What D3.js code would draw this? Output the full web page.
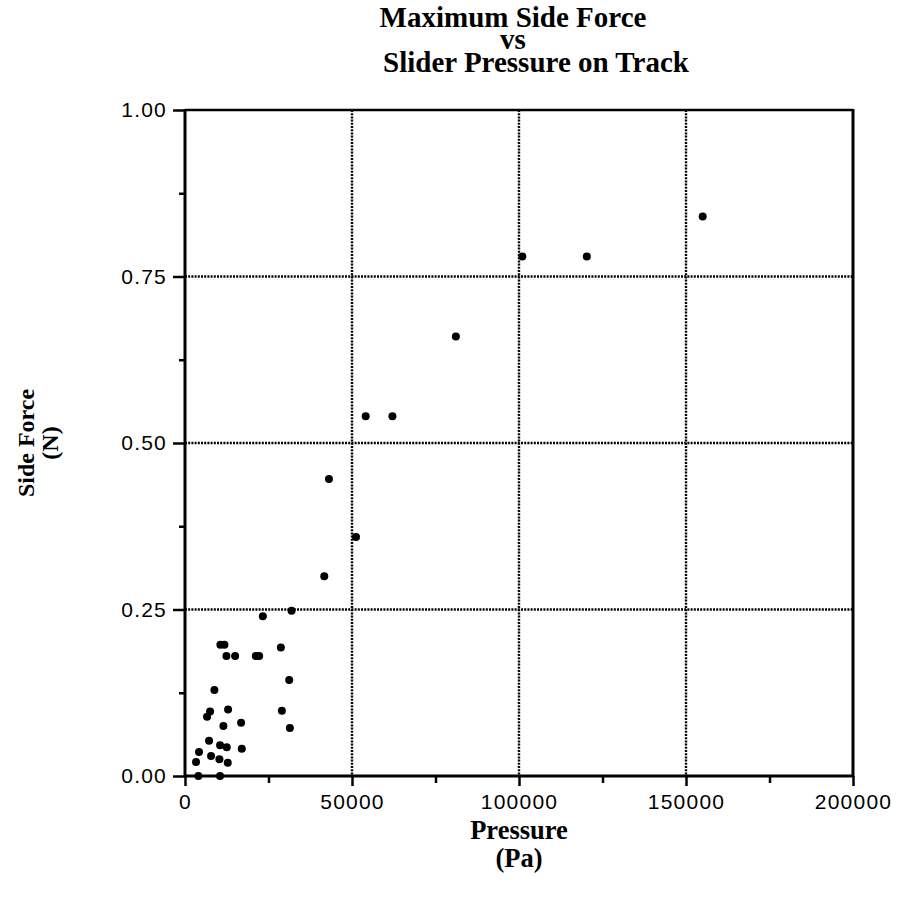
<!DOCTYPE html>
<html><head><meta charset="utf-8">
<script src="https://cdn.jsdelivr.net/npm/d3@7"></script>
<style>body{margin:0;background:#fff}</style>
</head><body><svg id="chart" width="908" height="902"></svg>
<script>
// Measured slider pressure (Pa) and the maximum side force (N) it produced
const pressure = [155000, 120300, 101000, 81100, 62100, 54100,
  43100, 51200, 41700,
  31900, 23300, 28700, 22200, 21200, 31200, 29000, 31400,
  10600, 11800, 12400, 15000, 8800, 7500, 6600, 12900, 11500, 16800,
  7200, 4200, 10500, 12500, 17000, 7800, 10300, 12800, 3300, 4000, 10500];
const sideForce = [0.84, 0.78, 0.78, 0.66, 0.54, 0.54,
  0.446, 0.359, 0.30,
  0.248, 0.240, 0.193, 0.180, 0.180, 0.144, 0.098, 0.072,
  0.197, 0.197, 0.180, 0.180, 0.129, 0.097, 0.089, 0.100, 0.075, 0.080,
  0.053, 0.036, 0.046, 0.043, 0.041, 0.030, 0.025, 0.020, 0.021, 0.0, 0.0];

const xTicks = [0, 50000, 100000, 150000, 200000];
const xMinorTicks = [25000, 75000, 125000, 175000];
const yTicks = [0, 0.25, 0.5, 0.75, 1.0];
const yMinorTicks = [0.125, 0.375, 0.625, 0.875];
const titleLines = ["Maximum Side Force", "vs", "Slider Pressure on Track"];
const xTitleLines = ["Pressure", "(Pa)"];
const yTitleLines = ["Side Force", "(N)"];

const svg = d3.select("#chart");
const plotLeft = 185, plotRight = 853, plotTop = 110, plotBottom = 776;
const x = d3.scaleLinear().domain([0, 200000]).range([plotLeft, plotRight]);
const y = d3.scaleLinear().domain([0, 1]).range([plotBottom, plotTop]);

const serif = "'Liberation Serif', 'Times New Roman', serif";
const sans = "'Liberation Sans', Arial, sans-serif";

// dotted grid lines at the interior major ticks
const grid = svg.append("g").attr("stroke", "#000").attr("stroke-width", 2.4)
  .attr("stroke-dasharray", "2,1.2").attr("fill", "none");
grid.selectAll("line.v").data(xTicks.slice(1, -1)).join("line").attr("class", "v")
  .attr("x1", d => x(d)).attr("x2", d => x(d)).attr("y1", plotTop).attr("y2", plotBottom);
grid.selectAll("line.h").data(yTicks.slice(1, -1)).join("line").attr("class", "h")
  .attr("y1", d => y(d)).attr("y2", d => y(d)).attr("x1", plotLeft).attr("x2", plotRight);

// axes
const xAxis = svg.append("g").attr("transform", `translate(0,${plotBottom})`)
  .call(d3.axisBottom(x).tickValues(xTicks).tickSize(10).tickPadding(8)
    .tickFormat(d3.format("d")));
const xMinor = svg.append("g").attr("transform", `translate(0,${plotBottom})`)
  .call(d3.axisBottom(x).tickValues(xMinorTicks).tickSize(7).tickFormat(""));
const yAxis = svg.append("g").attr("transform", `translate(${plotLeft},0)`)
  .call(d3.axisLeft(y).tickValues(yTicks).tickSize(12).tickPadding(6)
    .tickFormat(d3.format(".2f")));
const yMinor = svg.append("g").attr("transform", `translate(${plotLeft},0)`)
  .call(d3.axisLeft(y).tickValues(yMinorTicks).tickSize(6).tickFormat(""));

[xAxis, xMinor, yAxis, yMinor].forEach(g => {
  g.select(".domain").remove();
  g.selectAll(".tick line").attr("stroke", "#000").attr("stroke-width", 2.5);
});
[xAxis, yAxis].forEach(g => g.selectAll(".tick text")
  .attr("fill", "#000").attr("font-family", sans).attr("font-size", 21)
  .attr("letter-spacing", 1.2));

// frame
const frame = svg.append("g").attr("stroke", "#000").attr("fill", "none");
frame.append("line").attr("x1", plotLeft).attr("x2", plotRight).attr("y1", plotTop).attr("y2", plotTop).attr("stroke-width", 2.5);
frame.append("line").attr("x1", plotLeft).attr("x2", plotRight).attr("y1", plotBottom).attr("y2", plotBottom).attr("stroke-width", 3);
frame.append("line").attr("x1", plotLeft).attr("x2", plotLeft).attr("y1", plotTop - 1).attr("y2", plotBottom + 1).attr("stroke-width", 3);
frame.append("line").attr("x1", plotRight).attr("x2", plotRight).attr("y1", plotTop - 1).attr("y2", plotBottom + 1).attr("stroke-width", 3);

// data points
svg.append("g").selectAll("circle").data(pressure.map((p, i) => [p, sideForce[i]]))
  .join("circle")
  .attr("cx", d => x(d[0])).attr("cy", d => y(d[1])).attr("r", 4).attr("fill", "#000");

// chart title: one text block, one line per tspan
const titleX = [513, 513, 536], titleY = [27, 49, 72];
const title = svg.append("text").attr("font-family", serif).attr("font-weight", "bold")
  .attr("font-size", 29).attr("text-anchor", "middle").attr("fill", "#000");
titleLines.forEach((t, i) => title.append("tspan").attr("x", titleX[i]).attr("y", titleY[i]).text(t));

// x-axis title
const xt = svg.append("text").attr("font-family", serif).attr("font-weight", "bold")
  .attr("font-size", 26.5).attr("text-anchor", "middle");
xTitleLines.forEach((t, i) => xt.append("tspan").attr("x", 519).attr("y", [839, 867][i]).text(t));

// y-axis title, reading upward
const yt = svg.append("text").attr("font-family", serif).attr("font-weight", "bold")
  .attr("font-size", 24).attr("text-anchor", "middle")
  .attr("transform", "rotate(-90)");
yTitleLines.forEach((t, i) => yt.append("tspan").attr("x", -443).attr("y", [34, 58][i]).text(t));
</script></body></html>
